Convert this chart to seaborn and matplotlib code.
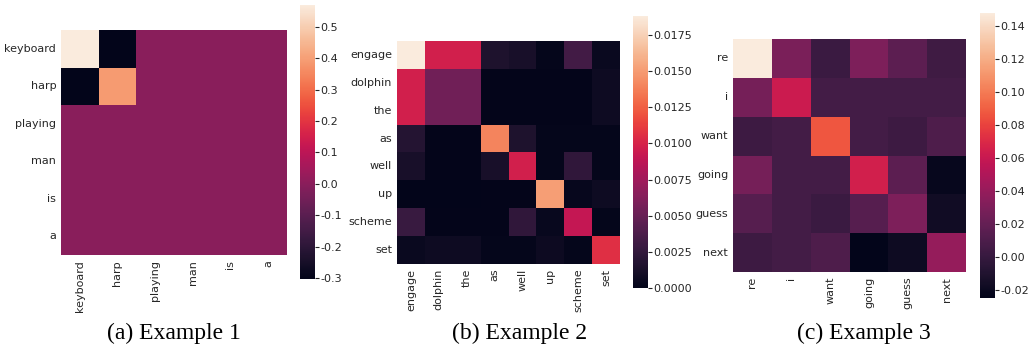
import numpy as np
import pandas as pd
import seaborn as sns
import matplotlib.pyplot as plt
from matplotlib.ticker import MultipleLocator, FormatStrFormatter

words1 = ["keyboard", "harp", "playing", "man", "is", "a"]
att1 = [
    [0.569, -0.303, 0.0, 0.0, 0.0, 0.0],
    [-0.303, 0.39, 0.0, 0.0, 0.0, 0.0],
    [0.0, 0.0, 0.0, 0.0, 0.0, 0.0],
    [0.0, 0.0, 0.0, 0.0, 0.0, 0.0],
    [0.0, 0.0, 0.0, 0.0, 0.0, 0.0],
    [0.0, 0.0, 0.0, 0.0, 0.0, 0.0],
]

words2 = ["engage", "dolphin", "the", "as", "well", "up", "scheme", "set"]
att2 = [
    [0.0188, 0.0097, 0.0097, 0.0015, 0.0012, 0.0002, 0.0033, 0.0005],
    [0.0097, 0.0054, 0.0054, 0.0001, 0.0001, 0.0001, 0.0001, 0.0007],
    [0.0097, 0.0054, 0.0054, 0.0001, 0.0001, 0.0001, 0.0001, 0.0007],
    [0.0018, 0.0001, 0.0001, 0.0140, 0.0015, 0.0002, 0.0002, 0.0002],
    [0.0012, 0.0001, 0.0001, 0.0012, 0.0097, 0.0002, 0.0024, 0.0002],
    [0.0000, 0.0000, 0.0000, 0.0001, 0.0001, 0.0151, 0.0003, 0.0007],
    [0.0028, 0.0001, 0.0001, 0.0001, 0.0024, 0.0004, 0.0091, 0.0002],
    [0.0005, 0.0007, 0.0007, 0.0002, 0.0002, 0.0006, 0.0002, 0.0106],
]

words3 = ["re", "i", "want", "going", "guess", "next"]
att3 = [
    [0.148, 0.029, 0.002, 0.030, 0.017, 0.004],
    [0.027, 0.062, 0.006, 0.006, 0.006, 0.006],
    [0.003, 0.006, 0.087, 0.006, 0.003, 0.011],
    [0.027, 0.006, 0.006, 0.065, 0.017, -0.022],
    [0.014, 0.006, 0.002, 0.014, 0.030, -0.017],
    [0.003, 0.006, 0.011, -0.0247, -0.018, 0.040],
]

captions = ["(a) Example 1", "(b) Example 2", "(c) Example 3"]

sns.set_theme(style="white")
plt.rcParams["font.family"] = ["DejaVu Sans"]

fig = plt.figure(figsize=(10.32, 3.49), dpi=100)

panels = [
    (words1, att1, [0.0591, 0.2693, 0.2190, 0.6447], [0.2907, 0.2006, 0.0145, 0.7850], 0.1, "%.1f", 0.1686),
    (words2, att2, [0.3847, 0.2436, 0.2161, 0.6390], [0.6134, 0.1748, 0.0145, 0.7790], 0.0025, "%.4f", 0.503),
    (words3, att3, [0.7103, 0.2206, 0.2258, 0.6676], [0.9496, 0.1461, 0.0145, 0.8166], 0.02, "%.2f", 0.8367),
]

for (words, att, hpos, cpos, step, fmt, cx), cap in zip(panels, captions):
    ax = fig.add_axes(hpos)
    cax = fig.add_axes(cpos)
    df = pd.DataFrame(att, index=words, columns=words)
    sns.heatmap(df, ax=ax, cbar_ax=cax, cmap="rocket")
    ax.tick_params(length=0, labelsize=8, colors="#262626")
    ax.set_xticklabels(words, rotation=90)
    ax.set_yticklabels(words, rotation=0)
    cax.yaxis.set_major_locator(MultipleLocator(step))
    cax.yaxis.set_major_formatter(FormatStrFormatter(fmt))
    cax.tick_params(length=3, width=0.8, labelsize=8, colors="#262626", pad=1)
    fig.text(cx, 0.046, cap, ha="center", va="center",
             family="Liberation Serif", fontsize=17, color="black")

fig.savefig("out.png", dpi=100)
